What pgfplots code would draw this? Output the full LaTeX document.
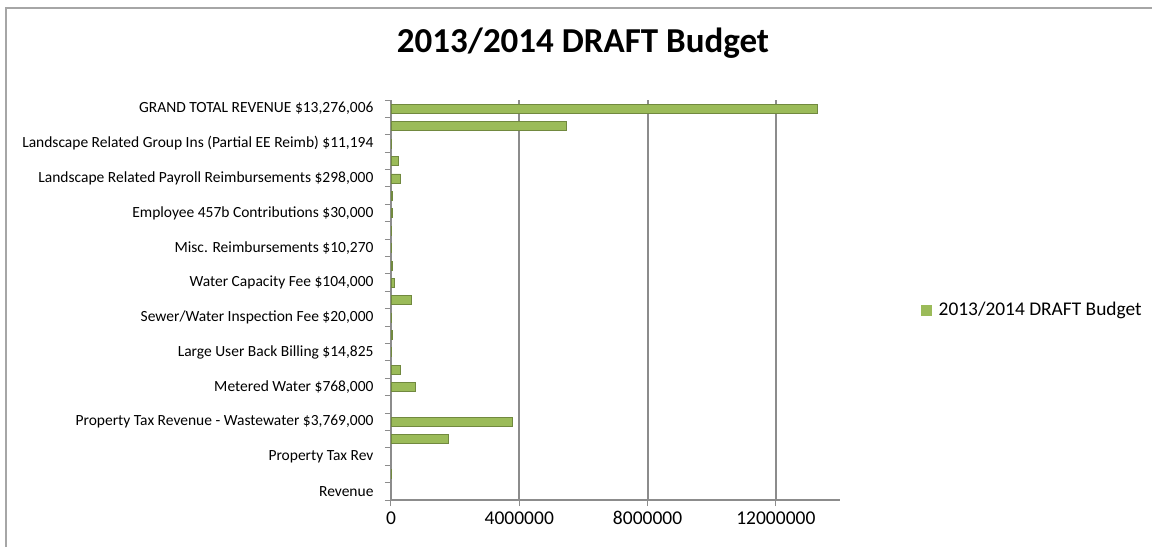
\documentclass[border=0pt]{standalone}
\usepackage{fontspec}
\setmainfont{Carlito}
\usepackage{pgfplots}
\usepackage{pgfplotstable}
\pgfplotsset{compat=1.18}
\definecolor{barg}{HTML}{9BBB59}
\definecolor{bare}{HTML}{71893F}
\definecolor{gridg}{HTML}{8C8C8C}
\definecolor{frameg}{HTML}{A6A6A6}
\pgfplotstableread{
y val
2 15000
4 1770000
5 3769000
7 768000
8 280000
9 14825
10 25000
11 20000
12 620000
13 104000
14 30000
15 10270
16 20000
17 30000
18 40000
19 298000
20 220000
21 11194
22 5450000
23 13276006
}\budget
\begin{document}
\begin{tikzpicture}[x=1pt,y=1pt]
\useasboundingbox (0,0) rectangle (1152,547);
\draw[frameg, line width=1.5pt] (6,0) -- (6,539) -- (1152,539);
\node[font=\fontsize{35}{40}\selectfont\bfseries] at (583,504) {2013/2014 DRAFT Budget};
\begin{axis}[
 at={(391pt,47pt)}, anchor=south west,
 scale only axis, width=449pt, height=400pt,
 xbar, bar width=9pt,
 xmin=0, xmax=14000000, ymin=0.5, ymax=23.5,
 axis x line*=bottom, axis y line*=left,
 axis line style={gridg, line width=1.2pt},
 xtick={0,4000000,8000000,12000000},
 scaled x ticks=false,
 xticklabel style={font=\fontsize{19.5}{22}\selectfont, yshift=-2pt, /pgf/number format/.cd, fixed, 1000 sep={}},
 /pgf/number format/assume math mode=true,
 xmajorgrids, grid style={gridg, line width=2pt},
 tick align=outside, major tick length=6pt,
 tick style={gridg, line width=1pt},
 ytick={0.5,1.5,...,23.5}, yticklabels={},
 extra y ticks={1,3,...,23},
 extra y tick labels={Revenue, Property Tax Rev, Property Tax Revenue - Wastewater \$3{,}769{,}000, Metered Water \$768{,}000, Large User Back Billing \$14{,}825, Sewer/Water Inspection Fee \$20{,}000, Water Capacity Fee \$104{,}000, Misc. Reimbursements \$10{,}270, Employee 457b Contributions \$30{,}000, Landscape Related Payroll Reimbursements \$298{,}000, Landscape Related Group Ins (Partial EE Reimb) \$11{,}194, GRAND TOTAL REVENUE \$13{,}276{,}006},
 extra y tick style={major tick length=0pt},
 yticklabel style={font=\fontsize{15.5}{17}\selectfont, xshift=-14pt},
 legend style={at={(1.174,0.475)}, anchor=west, draw=none, font=\fontsize{19.4}{22}\selectfont},
 legend image code/.code={\fill[barg] (0pt,-5pt) rectangle (10pt,5pt); \path (15pt,0pt);},
]
\addplot[fill=barg, draw=bare] table[x=val,y=y]{\budget};
\legend{2013/2014 DRAFT Budget}
\end{axis}
\end{tikzpicture}
\end{document}
